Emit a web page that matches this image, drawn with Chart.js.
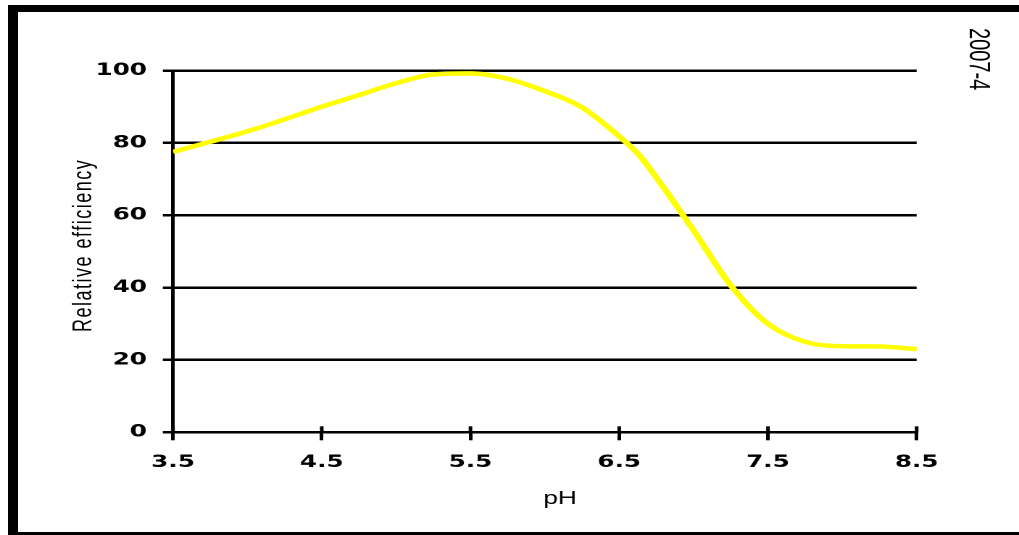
<!DOCTYPE html>
<html lang="en">
<head>
    <meta charset="UTF-8">
    <title>Relative efficiency vs pH</title>
    <script src="https://cdn.jsdelivr.net/npm/chart.js@4.4.1/dist/chart.umd.min.js"></script>
    <style>
        html, body { margin: 0; padding: 0; background: #fff; overflow: hidden; }
        #page { position: relative; width: 1019px; height: 535px; overflow: hidden; background: #fff; }
        /* the original picture is stretched sideways, so the chart is too */
        #stretch { position: absolute; left: 0; top: 0; width: 703px; height: 535px;
                   transform: scaleX(1.4495); transform-origin: 0 0; }
        .bar { position: absolute; background: #000; }
    </style>
</head>
<body>
<div id="page">
    <div id="stretch"><canvas id="chart"></canvas></div>
    <div class="bar" style="left:8px; top:5px; width:1011px; height:7px"></div>
    <div class="bar" style="left:8px; top:5px; width:10px; height:530px"></div>
    <div class="bar" style="left:8px; top:532px; width:1011px; height:3px"></div>
</div>

<script>
    // values
    const ph = [3.5, 3.75, 4.0, 4.25, 4.5, 4.75, 5.0, 5.25, 5.5, 5.75, 6.0, 6.25,
                6.5, 6.625, 6.75, 7.0, 7.25, 7.5, 7.75, 8.0, 8.25, 8.5];
    const efficiency = [77.5, 80.3, 83.2, 86.5, 90.0, 93.2, 96.5, 98.9, 99.2, 97.7, 94.3, 89.8,
                        81.8, 77.0, 70.4, 55.8, 40.6, 30.0, 25.0, 23.8, 23.7, 23.0];
    const phTicks = [3.5, 4.5, 5.5, 6.5, 7.5, 8.5];
    const efficiencyTicks = [0, 20, 40, 60, 80, 100];
    const stamp = '2007-4';

    // small tweaks to how the axis titles are drawn (spacing / nudge)
    function wrapTitle(scale, spacing, dx, dy) {
        if (scale._wrapped) return;
        const orig = scale.drawTitle.bind(scale);
        scale.drawTitle = function () {
            const c = this.ctx;
            c.save();
            c.letterSpacing = spacing;
            c.translate(dx, dy);
            orig();
            c.restore();
        };
        scale._wrapped = true;
    }

    // x tick marks also poke up into the plot, plus the rotated stamp at the right
    const extras = {
        id: 'extras',
        afterLayout(chart) {
            wrapTitle(chart.scales.y, '1.5px', 0, -6);
            wrapTitle(chart.scales.x, '0px', 10.5, 0);
        },
        afterDraw(chart) {
            const ctx = chart.ctx;
            const xs = chart.scales.x;
            ctx.save();
            ctx.strokeStyle = '#000';
            ctx.lineWidth = 2.5;
            xs.ticks.forEach(t => {
                const px = xs.getPixelForValue(t.value);
                ctx.beginPath();
                ctx.moveTo(px, xs.top);
                ctx.lineTo(px, xs.top - 6);
                ctx.stroke();
            });
            ctx.restore();

            ctx.save();
            ctx.beginPath();
            ctx.rect(640, 0, 63, 92);
            ctx.clip();
            ctx.translate(669, 28);
            ctx.rotate(Math.PI / 2);
            ctx.fillStyle = '#000';
            ctx.font = '20px "Liberation Sans", Arial, sans-serif';
            ctx.textAlign = 'left';
            ctx.textBaseline = 'alphabetic';
            ctx.fillText(stamp, 0, 0);
            ctx.restore();
        }
    };

    const ctx = document.getElementById('chart').getContext('2d');
    const tickFont = { family: 'DejaVu Sans', size: 17, weight: 'bold' };

    new Chart(ctx, {
        type: 'line',
        data: {
            datasets: [{
                data: ph.map((x, i) => ({ x: x, y: efficiency[i] })),
                borderColor: '#FFFF00',
                borderWidth: 4.5,
                pointRadius: 0,
                fill: false,
                cubicInterpolationMode: 'monotone'
            }]
        },
        options: {
            responsive: true,
            maintainAspectRatio: false,
            animation: false,
            devicePixelRatio: 2,
            layout: { padding: { left: 0, right: 70.6, top: 70.5, bottom: 0 } },
            plugins: { legend: { display: false }, tooltip: { enabled: false } },
            scales: {
                x: {
                    type: 'linear',
                    min: 3.5,
                    max: 8.5,
                    afterBuildTicks: s => { s.ticks = phTicks.map(v => ({ value: v })); },
                    afterFit: s => { s.height = 102.7; },
                    grid: { drawOnChartArea: false, color: '#000', lineWidth: 2.5, tickLength: 8 },
                    border: { color: '#000', width: 2.5 },
                    ticks: { color: '#000', padding: 12, font: tickFont,
                             callback: v => Number(v).toFixed(1) },
                    title: { display: true, text: 'pH', color: '#000',
                             font: { family: 'Liberation Sans', size: 18 },
                             padding: { top: 0, bottom: 25 } }
                },
                y: {
                    min: 0,
                    max: 100,
                    afterBuildTicks: s => { s.ticks = efficiencyTicks.map(v => ({ value: v })); },
                    afterFit: s => { s.width = 119.35; },
                    grid: { color: '#000', lineWidth: 2.5, tickLength: 7 },
                    border: { color: '#000', width: 2.5 },
                    ticks: { color: '#000', padding: 11, font: tickFont },
                    title: { display: true, text: 'Relative efficiency', color: '#000',
                             font: { family: 'Liberation Sans', size: 18 },
                             padding: { top: 47, bottom: 0 } }
                }
            }
        },
        plugins: [extras]
    });
</script>
</body>
</html>
